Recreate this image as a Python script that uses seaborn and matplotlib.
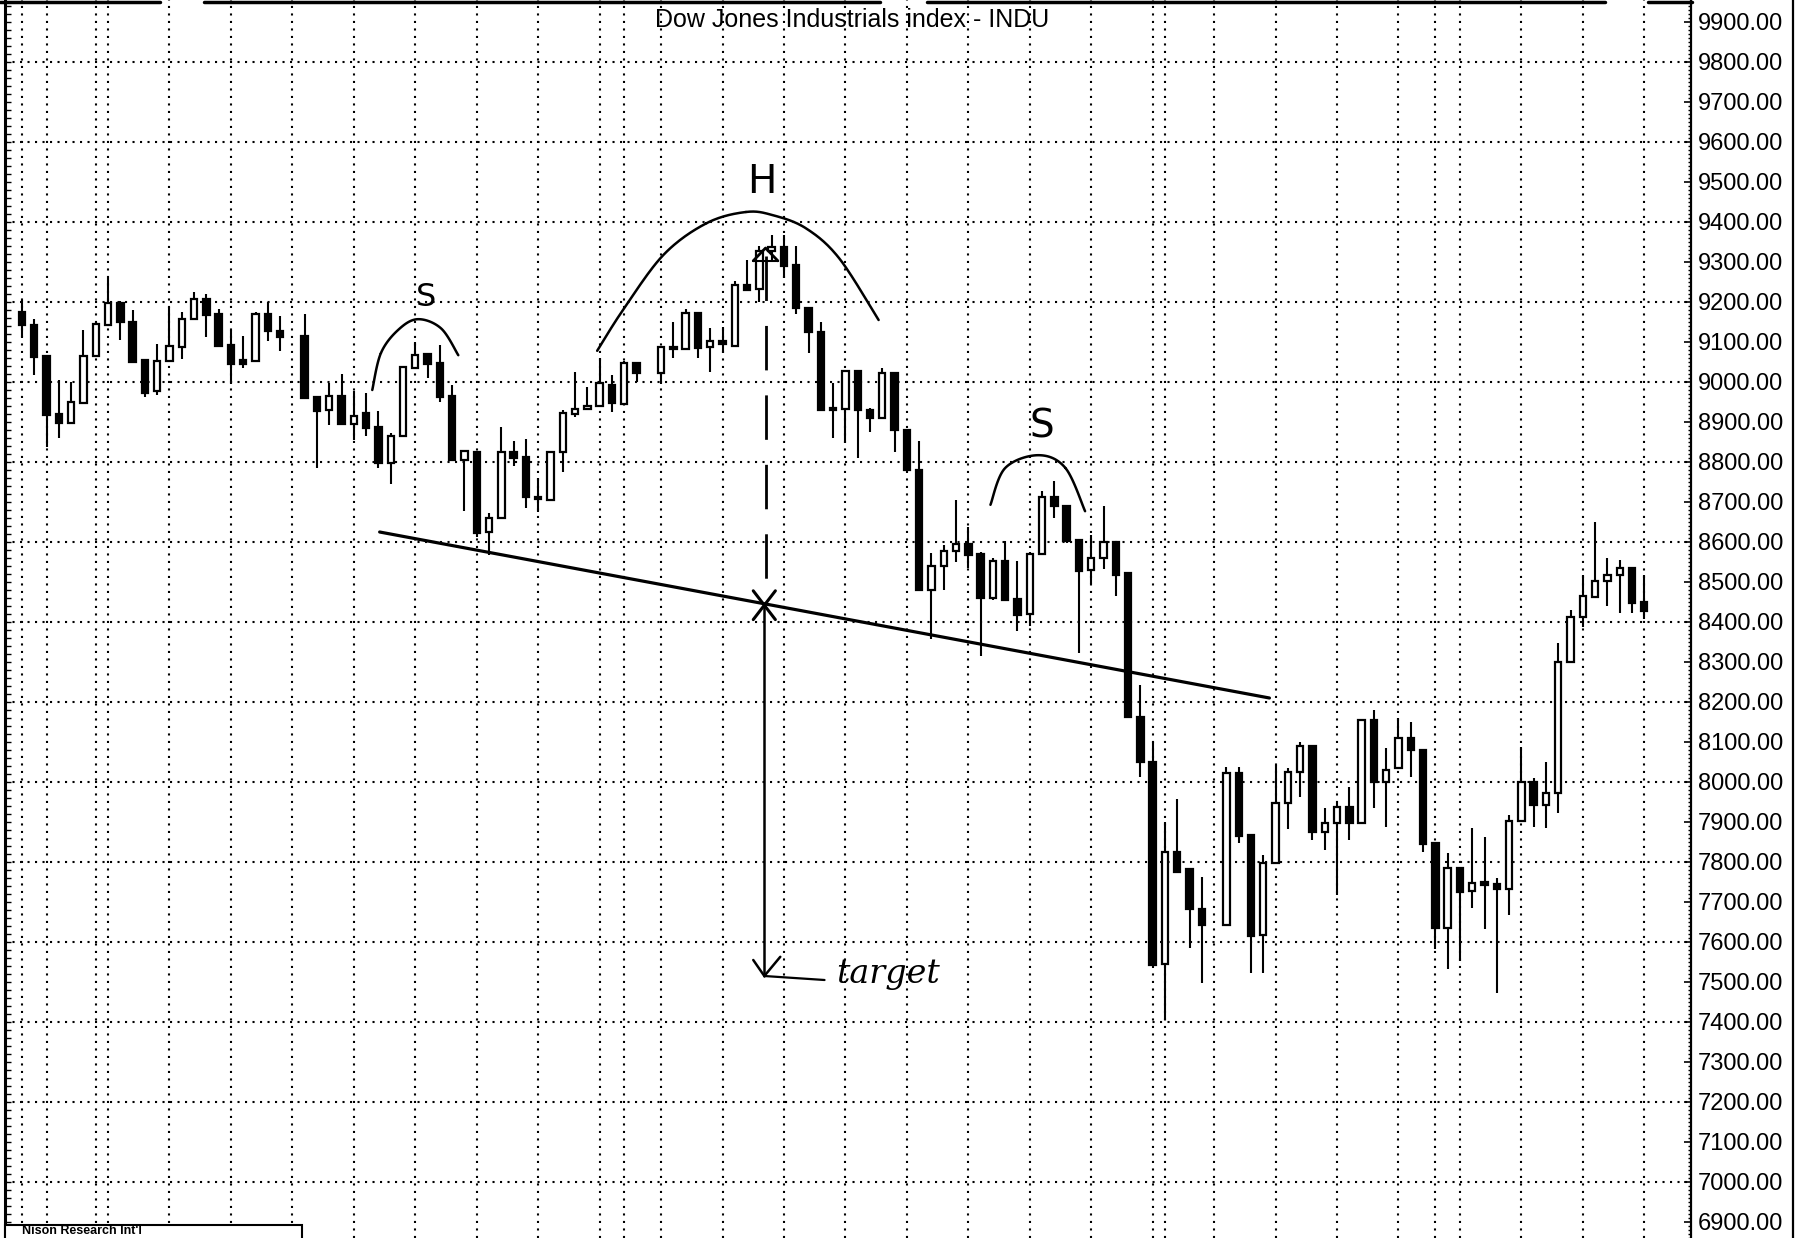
import numpy as np
import pandas as pd
import matplotlib
matplotlib.use("Agg")
import matplotlib.pyplot as plt
import seaborn as sns
from matplotlib.ticker import MultipleLocator, FixedLocator, FuncFormatter
from matplotlib.patches import Rectangle
from matplotlib.lines import Line2D

# ---------------------------------------------------------------- data
start_date, end_date = "1998-04-23", "1998-10-26"
holidays = ["1998-05-25", "1998-07-03", "1998-09-07"]

opens = [9175, 9143, 9065, 8919, 8898, 8948, 9064, 9143, 9198, 9150,
         9054, 8978, 9053, 9088, 9157, 9208, 9169, 9093, 9054, 9052,
         9169, 9128,
         9115, 8962, 8930, 8966, 8895, 8922, 8887,
         8798, 8865, 9036, 9069, 9048, 8966, 8805, 8826, 8624, 8659,
         8826, 8813, 8712, 8705, 8826, 8920, 8932, 8941, 8992, 8945,
         9048,
         9023, 9088, 9082, 9173, 9088, 9103, 9091, 9242,
         9232, 9327, 9338, 9292, 9186, 9126, 8935, 8932, 9028, 8930,
         8911, 9022, 8881, 8781, 8481, 8539, 8577, 8596, 8571, 8460,
         8552, 8458, 8420, 8570, 8712, 8691, 8606, 8531, 8560, 8600,
         8522, 8163, 8049, 7544, 7826, 7782, 7682,
         7642, 8022,
         7867, 7617, 7797, 7947, 8026, 8090, 7876, 7897, 7937, 7897,
         8155, 8001, 8034, 8111, 8080, 7847, 7636, 7786, 7727, 7749,
         7745, 7732, 7902, 8001, 7942, 7972, 8301, 8413, 8463, 8502,
         8517, 8534, 8449]

highs = [9204, 9158, 9068, 9004, 9000, 9131, 9150, 9260, 9202, 9179,
         9056, 9096, 9188, 9175, 9225, 9221, 9183, 9129, 9114, 9175,
         9200, 9165,
         9169, 8964, 8997, 9020, 8977, 8972, 8928,
         8872, 9040, 9101, 9071, 9092, 8992, 8830, 8828, 8672, 8888,
         8853, 8857, 8759, 8828, 8930, 9024, 8988, 9059, 9017, 9052,
         9050,
         9090, 9149, 9182, 9175, 9134, 9137, 9252, 9305,
         9340, 9367, 9367, 9340, 9188, 9151, 8997, 9030, 9030, 8935,
         9036, 9026, 8883, 8853, 8572, 8593, 8706, 8637, 8575, 8560,
         8602, 8553, 8575, 8727, 8752, 8693, 8608, 8618, 8689, 8602,
         8525, 8242, 8101, 7901, 7957, 7785, 7763,
         8038, 8038,
         7869, 7817, 8042, 8036, 8101, 8092, 7934, 7947, 7988, 8157,
         8180, 8086, 8159, 8151, 8082, 7849, 7822, 7788, 7884, 7863,
         7759, 7917, 8088, 8011, 8051, 8347, 8430, 8517, 8649, 8559,
         8555, 8536, 8517]

lows = [9112, 9017, 8837, 8861, 8896, 8946, 9062, 9141, 9104, 9048,
        8962, 8967, 9051, 9058, 9155, 9112, 9088, 8996, 9036, 9050,
        9102, 9077,
        8957, 8784, 8893, 8893, 8855, 8865, 8784,
        8745, 8863, 9034, 9011, 8951, 8803, 8678, 8613, 8568, 8657,
        8791, 8684, 8676, 8703, 8776, 8912, 8930, 8938, 8926, 8943,
        9001,
        8996, 9061, 9080, 9061, 9026, 9072, 9089, 9228,
        9199, 9300, 9259, 9169, 9072, 8928, 8861, 8848, 8811, 8875,
        8909, 8826, 8779, 8477, 8358, 8479, 8549, 8535, 8314, 8454,
        8454, 8377, 8389, 8568, 8660, 8597, 8322, 8495, 8533, 8464,
        8160, 8013, 7540, 7405, 7772, 7584, 7498,
        7640, 7848,
        7522, 7522, 7795, 7882, 7963, 7855, 7830, 7717, 7855, 7895,
        7934, 7888, 8032, 8013, 7824, 7582, 7532, 7552, 7686, 7632,
        7472, 7667, 7900, 7888, 7884, 7923, 8299, 8388, 8461, 8441,
        8422, 8422, 8407]

closes = [9142, 9062, 8918, 8897, 8950, 9065, 9146, 9198, 9150, 9050,
          8973, 9053, 9089, 9158, 9208, 9167, 9090, 9046, 9046, 9169,
          9127, 9112,
          8960, 8928, 8966, 8895, 8915, 8884, 8798,
          8866, 9037, 9067, 9044, 8963, 8805, 8828, 8622, 8661, 8825,
          8809, 8712, 8707, 8826, 8922, 8932, 8940, 8997, 8947, 9048,
          9022,
          9088, 9082, 9172, 9084, 9102, 9094, 9242, 9230,
          9327, 9338, 9290, 9186, 9126, 8930, 8930, 9028, 8930, 8909,
          9022, 8880, 8781, 8479, 8539, 8577, 8596, 8568, 8460, 8552,
          8456, 8418, 8571, 8712, 8689, 8602, 8528, 8560, 8600, 8518,
          8163, 8049, 7542, 7826, 7776, 7682, 7642,
          8022, 7865,
          7615, 7797, 7947, 8026, 8090, 7876, 7897, 7937, 7897, 8155,
          8001, 8030, 8111, 8080, 7844, 7636, 7786, 7726, 7748, 7742,
          7732, 7902, 8001, 7942, 7972, 8301, 8413, 8465, 8502, 8517,
          8534, 8447, 8428]

price_labels = [6900 + 100 * k for k in range(31)]
title_text = "Dow Jones Industrials index - INDU"
credit_text = "Nison Research Int'l"

# hand-drawn head-and-shoulders markup (session position, index level)
neckline = [(29.1, 8625), (101.5, 8210)]
left_shoulder_arc = [(28.5, 8980), (29.2, 9072), (30.6, 9130), (32.2, 9157),
                     (34.1, 9134), (35.5, 9067)]
head_arc = [(46.8, 9078), (48.9, 9180), (52.2, 9318), (55.7, 9397),
            (58.9, 9425), (61.1, 9417), (63.8, 9384), (66.5, 9309), (69.7, 9155)]
right_shoulder_arc = [(78.8, 8693), (80.0, 8785), (82.7, 8817), (84.9, 8785),
                      (86.5, 8677)]
head_top = (60.5, 9335)
neck_point = (60.4, 8442)
target_level = 7515

# ---------------------------------------------------------------- frame
calendar = pd.bdate_range(start_date, end_date)
hol = pd.to_datetime(holidays)
sessions = calendar[~calendar.isin(hol)]
slot = {d: k for k, d in enumerate(calendar)}
xs = np.array([slot[d] for d in sessions], dtype=float)

df = pd.DataFrame({"x": xs, "open": opens, "high": highs,
                   "low": lows, "close": closes})
df["up"] = df["close"] >= df["open"]

# weekly separators on Mondays plus the first session of every month
month_first = calendar.to_series().groupby([calendar.year, calendar.month]).min()
grid_days = sorted(set(calendar[calendar.weekday == 0]) | set(month_first))
grid_x = [slot[d] for d in grid_days]

sns.set_theme(style="white")
plt.rcParams["font.family"] = ["Liberation Sans", "DejaVu Sans"]

W, H = 1797, 1238
fig = plt.figure(figsize=(W / 100, H / 100), dpi=100)
left_px, right_px = 5, 1691
ax = fig.add_axes([left_px / W, 0, (right_px - left_px) / W, 1])

x0_px, step_px = 22.0, 12.29
ax.set_xlim((left_px - x0_px) / step_px, (right_px - x0_px) / step_px)
ax.set_ylim(6860, 9955)

# dotted grid
dot = (0, (1, 2.6))
for gx in grid_x:
    ax.axvline(gx, color="black", lw=1.5, ls=dot, zorder=0)
for gy in range(7000, 9801, 200):
    ax.axhline(gy, color="black", lw=1.5, ls=dot, zorder=0)

# candles
ax.vlines(df["x"], df["low"], df["high"], color="black", lw=1.5, zorder=2)
body_lo = np.minimum(df["open"], df["close"])
body_h = np.maximum(np.abs(df["close"] - df["open"]), 4)
ax.bar(df["x"], body_h, bottom=body_lo, width=0.52,
       color=np.where(df["up"], "white", "black"), edgecolor="black",
       linewidth=1.6, zorder=3)


def catmull(points, n=25):
    p = np.asarray(points, float)
    p = np.vstack([p[0], p, p[-1]])
    segs = []
    t = np.linspace(0, 1, n)[:, None]
    for k in range(1, len(p) - 2):
        p0, p1, p2, p3 = p[k - 1], p[k], p[k + 1], p[k + 2]
        segs.append(0.5 * (2 * p1 + (-p0 + p2) * t
                           + (2 * p0 - 5 * p1 + 4 * p2 - p3) * t ** 2
                           + (-p0 + 3 * p1 - 3 * p2 + p3) * t ** 3))
    return np.vstack(segs)


for arc in (left_shoulder_arc, head_arc, right_shoulder_arc):
    c = catmull(arc)
    ax.plot(c[:, 0], c[:, 1], color="black", lw=1.8, zorder=4,
            solid_capstyle="round")

nl = np.array(neckline)
ax.plot(nl[:, 0], nl[:, 1], color="black", lw=2.3, zorder=4)

# measured move: dashed from the head down to the neckline, then solid to target
hx, hy = head_top
nx, ny = neck_point
ax.plot([hx, hx], [hy - 20, ny], color="black", lw=2.0, ls=(0, (16, 9)), zorder=4)
ax.plot([hx - 1.0, hx, hx + 1.0], [hy - 32, hy, hy - 32], color="black", lw=2.0, zorder=5)
ax.plot([hx - 1.0, hx + 1.0], [hy - 32, hy - 32], color="black", lw=1.5, zorder=5)
ax.plot([nx - 0.9, nx + 0.9], [ny - 36, ny + 36], color="black", lw=2.2, zorder=5)
ax.plot([nx - 0.9, nx + 0.9], [ny + 36, ny - 36], color="black", lw=2.2, zorder=5)
ax.plot([nx, nx], [ny, target_level], color="black", lw=1.8, zorder=4)
ax.plot([nx - 0.9, nx, nx + 1.3], [target_level + 40, target_level, target_level + 48],
        color="black", lw=1.8, zorder=5)
ax.plot([nx, nx + 4.9], [target_level, target_level - 10], color="black", lw=1.6, zorder=4)

hand = dict(family=["DejaVu Sans"], color="black", ha="center", va="center", zorder=6)
ax.text(32.9, 9210, "S", fontsize=23, **hand)
ax.text(60.2, 9501, "H", fontsize=28, **hand)
ax.text(83.0, 8890, "S", fontsize=28, **hand)
ax.text(70.5, 7520, "target", fontsize=24, family=["DejaVu Serif"], style="italic",
        color="black", ha="center", va="center", zorder=6)

# axis: price scale on the right
ax.yaxis.tick_right()
ax.yaxis.set_major_locator(FixedLocator(price_labels))
ax.yaxis.set_major_formatter(FuncFormatter(lambda v, _: f"{v:.2f}"))
ax.yaxis.set_minor_locator(MultipleLocator(10))
ax.tick_params(axis="y", which="major", direction="in", length=5, width=1.2,
               labelsize=17, pad=5, colors="black")
ax.tick_params(axis="y", which="minor", direction="in", length=2.5, width=1.0,
               colors="black")
ax.tick_params(axis="x", which="both", bottom=False, labelbottom=False)
for side in ("top", "bottom"):
    ax.spines[side].set_visible(False)
ax.spines["right"].set_linewidth(1.6)
ax.spines["right"].set_color("black")
ax.spines["left"].set_linewidth(2.2)
ax.spines["left"].set_color("black")

lax = ax.secondary_yaxis("left")
lax.yaxis.set_major_locator(MultipleLocator(20))
lax.tick_params(axis="y", direction="in", length=4, width=1.0, labelleft=False,
                colors="black")
lax.spines["left"].set_visible(False)

# title
fig.text(852 / W, 1 - 20 / H, title_text, ha="center", va="center", fontsize=18,
         color="black")

# top rule pieces and outer border
for a, b in [(0, 160), (204, 880), (927, 1605), (1648, 1692)]:
    fig.add_artist(Line2D([a / W, b / W], [1 - 1.5 / H, 1 - 1.5 / H],
                          color="black", lw=2.5))
fig.add_artist(Line2D([1793 / W, 1793 / W], [0, 1], color="black", lw=1.6))

# credit box, bottom left
fig.add_artist(Rectangle((5 / W, -0.01), 297 / W, 0.01 + 13 / H,
                         transform=fig.transFigure, facecolor="white",
                         edgecolor="black", lw=1.5, zorder=10))
fig.text(22 / W, 1 - 1236.5 / H, credit_text, ha="left", va="bottom", fontsize=9,
         fontweight="bold", color="black", zorder=11)

fig.savefig("out.png", dpi=100, facecolor="white")
